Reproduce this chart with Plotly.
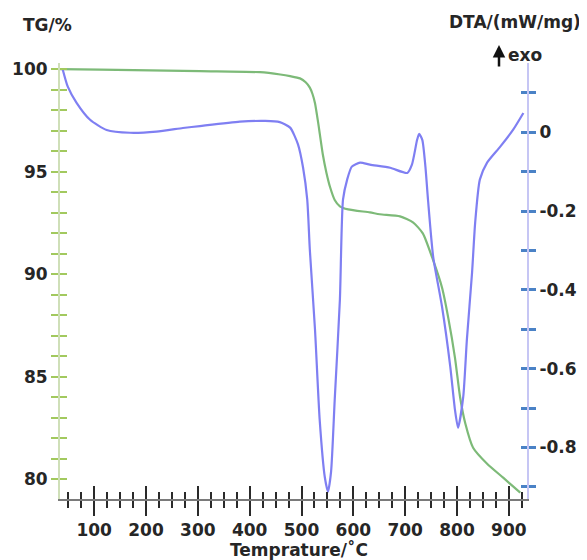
import plotly.graph_objects as go

# ---------------- data ----------------
tg_temp = [34, 111, 304, 420, 459, 478, 497, 508, 516, 521, 526, 532, 541, 548, 555, 564, 574,
           590, 632, 651, 690, 715, 734, 754, 771, 783, 796, 806, 816, 831, 858, 889, 922]
tg_val = [100.0, 99.98, 99.90, 99.85, 99.74, 99.66, 99.55, 99.36, 99.10, 98.80, 98.34, 97.40, 95.85,
          94.95, 94.25, 93.62, 93.31, 93.16, 93.01, 92.92, 92.82, 92.53, 91.99, 90.67, 89.35, 87.88,
          85.93, 83.98, 82.71, 81.53, 80.75, 80.07, 79.34]

dta_temp = [39, 49, 66, 92, 124, 169, 220, 271, 304, 381, 430, 458, 478, 493, 503, 511, 516,
            526, 535, 545, 551, 557, 564, 574, 580, 588, 597, 613, 632, 671, 704, 713, 723, 727,
            733, 739, 744, 754, 771, 787, 796, 802, 812, 819, 829, 835, 844, 858, 883, 908, 928]
dta_val = [0.161, 0.116, 0.075, 0.032, 0.006, -0.001, 0.002, 0.011, 0.016, 0.027, 0.029, 0.026,
           0.012, -0.030, -0.090, -0.171, -0.298, -0.501, -0.729, -0.876, -0.912, -0.861, -0.679,
           -0.425, -0.171, -0.120, -0.087, -0.077, -0.082, -0.090, -0.103, -0.082, -0.019, -0.004,
           -0.019, -0.087, -0.171, -0.316, -0.442, -0.595, -0.704, -0.750, -0.671, -0.526, -0.356,
           -0.229, -0.120, -0.077, -0.037, 0.006, 0.049]

x_tick_vals = [100, 200, 300, 400, 500, 600, 700, 800, 900]
x_tick_text = ["100", "200", "300", "400", "500", "600", "700", "800", "900"]
tg_tick_vals = [80, 85, 90, 95, 100]
tg_tick_text = ["80", "85", "90", "95", "100"]
dta_tick_vals = [0, -0.2, -0.4, -0.6, -0.8]
dta_tick_text = ["0", "-0.2", "-0.4", "-0.6", "-0.8"]

# ---------------- layout geometry (screen pixels) ----------------
W, H = 587, 560
OFF = 8  # default body margin of the html page
ML, MR, MT, MB = 60, 60, 63, 61
PW, PH = W - ML - MR, H - MT - MB

def px_x(p):
    return (p - ML) / PW

def px_y(p):
    return (H - MB - p) / PH

FONT = "DejaVu Sans"
TXT = "#262626"
tickfont = dict(family=FONT, size=17, color=TXT, weight="bold")

GREEN = "#7dba78"
BLUE = "#7f7ff2"
X_TICK = "#2a2a2a"
G_TICK = "#a2c95e"
G_LINE = "#cfdfb8"
B_TICK = "#4a82c6"
B_LINE = "#c6c6f4"

x_range = [34, 935]
tg_range = [79.03, 100.3]
dta_range = [-0.9306, 0.176]

fig = go.Figure()
fig.add_trace(go.Scatter(x=tg_temp, y=tg_val, mode="lines",
                         line=dict(color=GREEN, width=2.2, shape="spline", smoothing=0.6),
                         xaxis="x", yaxis="y", hoverinfo="skip", showlegend=False))
fig.add_trace(go.Scatter(x=dta_temp, y=dta_val, mode="lines",
                         line=dict(color=BLUE, width=2.2, shape="spline", smoothing=0.6),
                         xaxis="x", yaxis="y2", hoverinfo="skip", showlegend=False))
# helper empty traces so the inner-tick axes are drawn
for xa, ya in [("x2", "y3"), ("x2", "y4")]:
    fig.add_trace(go.Scatter(x=[None], y=[None], xaxis=xa, yaxis=ya,
                             hoverinfo="skip", showlegend=False))

fig.update_layout(
    width=W - OFF, height=H - OFF,
    margin=dict(l=ML - OFF, r=MR, t=MT - OFF, b=MB),
    paper_bgcolor="white", plot_bgcolor="white",
    showlegend=False,
    xaxis=dict(range=x_range, tickmode="array", tickvals=x_tick_vals, ticktext=x_tick_text,
               ticks="outside", ticklen=15, tickwidth=2, tickcolor=X_TICK,
               minor=dict(tickmode="linear", tick0=0, dtick=25, ticks="outside",
                          ticklen=7, tickwidth=2, tickcolor=X_TICK),
               showline=True, linecolor="#7a7a7a", linewidth=1.5, automargin=False,
               showgrid=False, zeroline=False, tickfont=tickfont, anchor="y"),
    xaxis2=dict(range=x_range, overlaying="x", anchor="y", side="bottom",
                tickmode="array", tickvals=x_tick_vals, automargin=False,
                ticks="inside", ticklen=13, tickwidth=2, tickcolor=X_TICK,
                minor=dict(tickmode="linear", tick0=0, dtick=25, ticks="inside",
                           ticklen=7, tickwidth=2, tickcolor=X_TICK),
                showticklabels=False, showline=False, showgrid=False, zeroline=False),
    yaxis=dict(range=tg_range, tickmode="array", tickvals=tg_tick_vals, ticktext=tg_tick_text,
               ticks="outside", ticklen=7, tickwidth=2, tickcolor=G_TICK,
               minor=dict(tickmode="linear", tick0=0, dtick=1, ticks="outside",
                          ticklen=7, tickwidth=2, tickcolor=G_TICK),
               showline=True, linecolor=G_LINE, linewidth=2, automargin=False,
               showgrid=False, zeroline=False, tickfont=tickfont, anchor="x", side="left"),
    yaxis3=dict(range=tg_range, overlaying="y", anchor="x", side="left",
                tickmode="array", tickvals=tg_tick_vals, automargin=False,
                ticks="inside", ticklen=7, tickwidth=2, tickcolor=G_TICK,
                minor=dict(tickmode="linear", tick0=0, dtick=1, ticks="inside",
                           ticklen=7, tickwidth=2, tickcolor=G_TICK),
                showticklabels=False, showline=False, showgrid=False, zeroline=False),
    yaxis2=dict(range=dta_range, overlaying="y", anchor="x", side="right",
                tickmode="array", tickvals=dta_tick_vals, ticktext=dta_tick_text,
                ticks="outside", ticklen=7, tickwidth=2.5, tickcolor=B_TICK,
                minor=dict(tickmode="linear", tick0=0, dtick=0.1, ticks="outside",
                           ticklen=7, tickwidth=2.5, tickcolor=B_TICK),
                showline=True, linecolor=B_LINE, linewidth=2, automargin=False,
                showgrid=False, zeroline=False, tickfont=tickfont),
    yaxis4=dict(range=dta_range, overlaying="y", anchor="x", side="right",
                tickmode="array", tickvals=dta_tick_vals, automargin=False,
                ticks="inside", ticklen=6, tickwidth=2.5, tickcolor=B_TICK,
                minor=dict(tickmode="linear", tick0=0, dtick=0.1, ticks="inside",
                           ticklen=6, tickwidth=2.5, tickcolor=B_TICK),
                showticklabels=False, showline=False, showgrid=False, zeroline=False),
)

titlefont = dict(family=FONT, size=17, color=TXT, weight="bold")
annotations = [
    dict(text="TG/%", x=px_x(47), y=px_y(25), xanchor="center", yanchor="middle",
         font=titlefont),
    dict(text="DTA/(mW/mg)", x=px_x(583), y=px_y(22), xanchor="right", yanchor="middle",
         font=titlefont),
    dict(text="exo", x=px_x(506), y=px_y(55), xanchor="left", yanchor="middle",
         font=titlefont),
    dict(text="Temprature/˚C", x=px_x(299), y=px_y(549), xanchor="center", yanchor="middle",
         font=titlefont),
]
for a in annotations:
    a.update(xref="paper", yref="paper", showarrow=False)
# exo arrow
annotations.append(dict(text="", x=px_x(499), y=px_y(45), xref="paper", yref="paper",
                        showarrow=True, ax=0, ay=23, arrowhead=2, arrowsize=1,
                        arrowwidth=2.5, arrowcolor="#111"))
fig.update_layout(annotations=annotations)

fig.write_html("out.html")
